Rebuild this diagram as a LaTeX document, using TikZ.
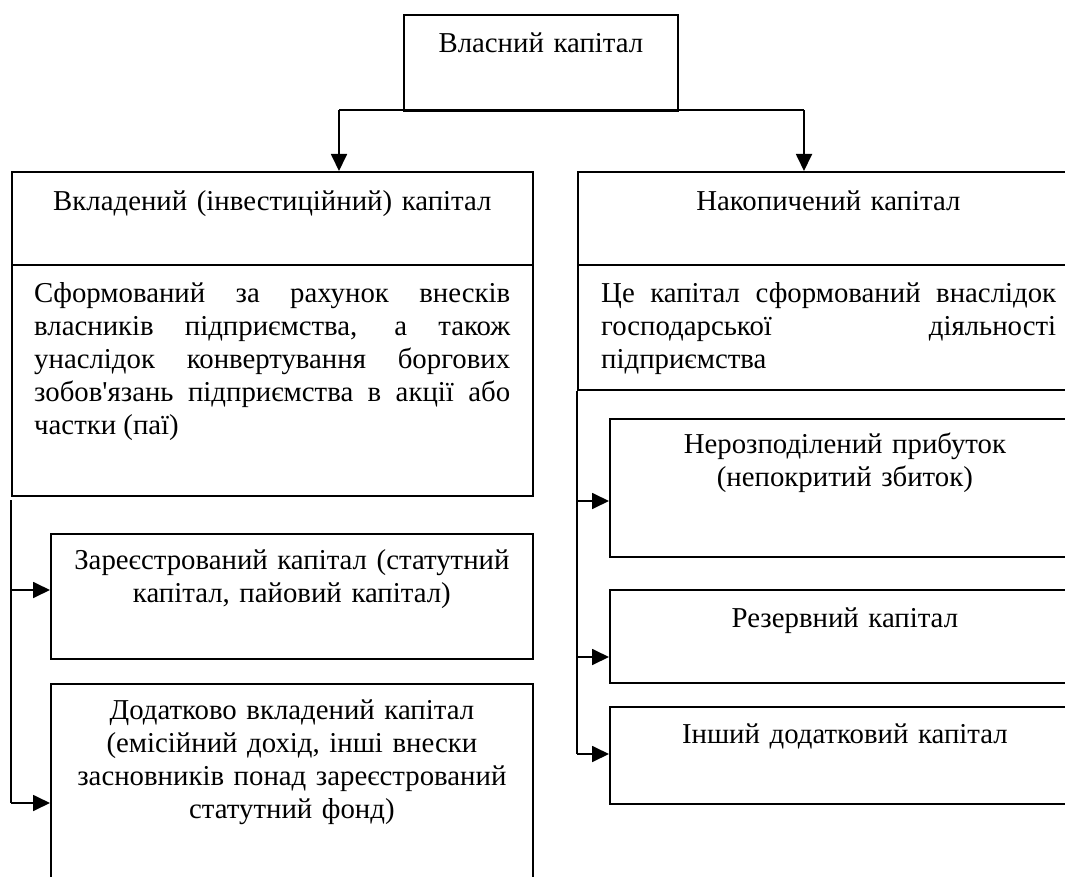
\documentclass[tikz,border=0pt]{standalone}
\usepackage{fontspec}
\setmainfont{Liberation Serif}[Ligatures=TeXOff]
\usetikzlibrary{arrows.meta,positioning}
\hyphenpenalty=10000
\tolerance=10000
\tikzset{
  box/.style={draw,line width=1.8pt,anchor=north west,inner sep=0pt},
  txt/.style={anchor=base,inner sep=0pt,align=center,font=\fontsize{28.8}{33}\selectfont},
  par/.style={txt,anchor=base west,align=justify},
  ln/.style={line width=1.8pt},
  arr/.style={ln,-{Triangle[length=17pt,width=16pt]}}
}
\begin{document}
\begin{tikzpicture}[x=1pt,y=-1pt]
  \clip (0,0) rectangle (1065,877);
  \fill[white] (0,0) rectangle (1065,877);
  \node[box,minimum width=274pt,minimum height=96pt] (own) at (403,14) {};
  \node[txt,text width=260pt] (ownT) at ([yshift=-39pt]own.north) {Власний капітал};

  \node[box,minimum width=521pt,minimum height=324pt] (inv) at (11,171) {};
  \coordinate (invD) at (0,265);
  \draw[ln] (inv.west |- invD) -- (inv.east |- invD);
  \node[txt,text width=500pt] (invT) at ([yshift=-40pt]inv.north) {Вкладений (інвестиційний) капітал};
  \node[par,text width=476pt] (invB) at (34,302) {Сформований за рахунок внесків\linebreak
    власників підприємства, а також\linebreak
    унаслідок конвертування боргових\linebreak
    зобов'язань підприємства в акції або\linebreak
    частки (паї)};

  \node[box,minimum width=501pt,minimum height=218pt] (acc) at (577,171) {};
  \draw[ln] (acc.west |- invD) -- (acc.east |- invD);
  \node[txt,text width=480pt] (accT) at ([yshift=-40pt]acc.north) {Накопичений капітал};
  \node[par,text width=455pt] (accB) at (601,302) {Це капітал сформований внаслідок\linebreak
    господарської діяльності\linebreak
    підприємства};

  \coordinate (jl) at (339,110);
  \coordinate (jr) at (804,110);
  \draw[ln] (jl) -- (jr);
  \draw[arr] (jl) -- (jl |- inv.north);
  \draw[arr] (jr) -- (jr |- acc.north);

  \node[box,minimum width=482pt,minimum height=125pt] (reg) at (50,533) {};
  \node[txt,text width=470pt] (regT) at ([yshift=-36pt]reg.north) {Зареєстрований капітал (статутний\\
    капітал, пайовий капітал)};
  \node[box,minimum width=482pt,minimum height=220pt] (add) at (50,683) {};
  \node[txt,text width=470pt] (addT) at ([yshift=-36pt]add.north) {Додатково вкладений капітал\\
    (емісійний дохід, інші внески\\
    засновників понад зареєстрований\\
    статутний фонд)};

  \coordinate (lt) at (11,500);
  \coordinate (la) at (11,590);
  \coordinate (lb) at (11,803);
  \draw[ln] (lt) -- (lb);
  \draw[arr] (la) -- (la -| reg.west);
  \draw[arr] (lb) -- (lb -| add.west);

  \node[box,minimum width=470pt,minimum height=138pt] (ret) at (609,418) {};
  \node[txt,text width=460pt] (retT) at ([yshift=-35pt]ret.north) {Нерозподілений прибуток\\
    (непокритий збиток)};
  \node[box,minimum width=470pt,minimum height=93pt] (res) at (609,589) {};
  \node[txt,text width=460pt] (resT) at ([yshift=-38pt]res.north) {Резервний капітал};
  \node[box,minimum width=470pt,minimum height=97pt] (oth) at (609,706) {};
  \node[txt,text width=460pt] (othT) at ([yshift=-37pt]oth.north) {Інший додатковий капітал};

  \coordinate (ra) at (577,501);
  \coordinate (rb) at (577,657);
  \coordinate (rc) at (577,754);
  \draw[ln] (acc.south west) -- (rc);
  \draw[arr] (ra) -- (ra -| ret.west);
  \draw[arr] (rb) -- (rb -| res.west);
  \draw[arr] (rc) -- (rc -| oth.west);
\end{tikzpicture}
\end{document}
